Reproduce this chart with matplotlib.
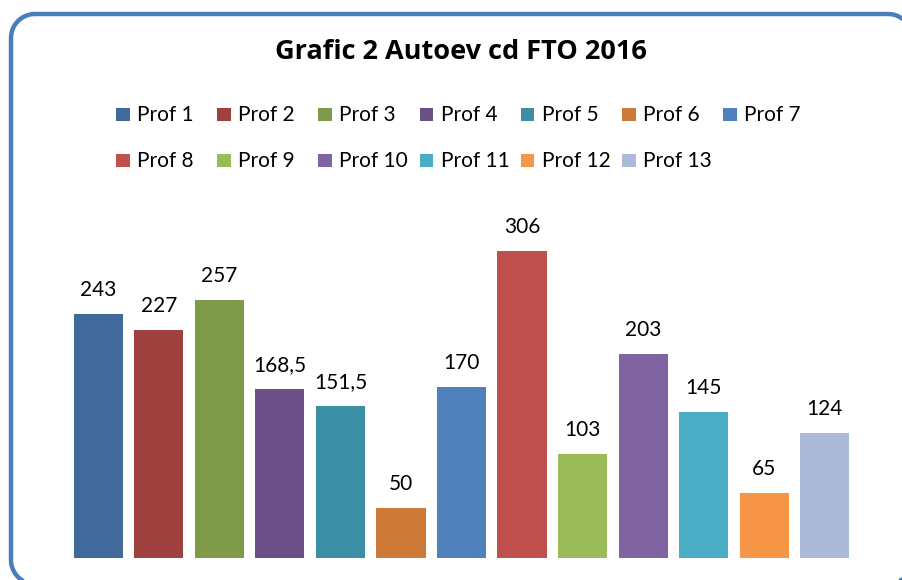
import matplotlib
matplotlib.use("Agg")
import numpy as np
import matplotlib.pyplot as plt
from matplotlib.patches import PathPatch, Rectangle
from matplotlib.path import Path
from matplotlib.transforms import IdentityTransform

# ---- data ----
series = ["Prof 1", "Prof 2", "Prof 3", "Prof 4", "Prof 5", "Prof 6", "Prof 7",
          "Prof 8", "Prof 9", "Prof 10", "Prof 11", "Prof 12", "Prof 13"]
values = [243, 227, 257, 168.5, 151.5, 50, 170, 306, 103, 203, 145, 65, 124]
colors = ["#416A9B", "#9E403E", "#7F9A48", "#6A5087", "#3A8FA5", "#CD7A38",
          "#4F81BD", "#C0504D", "#9BBB59", "#8064A2", "#4BACC6", "#F79646",
          "#AABAD8"]
title = "Grafic 2 Autoev cd FTO 2016"

W, H = 902, 580
FONT = "Lato"

fig = plt.figure(figsize=(W / 100, H / 100), dpi=100)
fig.patch.set_facecolor("white")


def rounded_rect(x0, y0, x1, y1, r, n=20):
    pts = []
    corners = [(x1 - r, y1 - r, 0, 90), (x0 + r, y1 - r, 90, 180),
               (x0 + r, y0 + r, 180, 270), (x1 - r, y0 + r, 270, 360)]
    for cx, cy, a0, a1 in corners:
        for t in np.linspace(np.radians(a0), np.radians(a1), n):
            pts.append((cx + r * np.cos(t), cy + r * np.sin(t)))
    pts.append(pts[0])
    return Path(pts)


# rounded chart border (display pixels, origin bottom-left)
fig.patches.append(PathPatch(rounded_rect(11, -4, 912, H - 14, 24),
                             transform=IdentityTransform(), fill=False,
                             edgecolor="#4A7EBB", linewidth=3.2))

# plot area
ax = fig.add_axes([60 / W, 22.3 / H, (863 - 60) / W, 330 / H])
ax.set_xlim(-0.636, 12.636)
ax.set_ylim(0, 329)
ax.axis("off")

xs = list(range(len(values)))
ax.bar(xs, values, width=0.81, color=colors, linewidth=0)

for x, v in zip(xs, values):
    lbl = (f"{v:g}").replace(".", ",")
    ax.annotate(lbl, (x, v), xytext=(0, 18), textcoords="offset pixels",
                ha="center", va="baseline", fontsize=15, family=FONT,
                color="black", annotation_clip=False)

# title
fig.text(461, H - 59, title, transform=IdentityTransform(), ha="center",
         va="baseline", fontsize=19.5, fontweight="bold", family="Open Sans")

# legend (Excel-like uniform grid)
for i, (name, c) in enumerate(zip(series, colors)):
    col, row = i % 7, i // 7
    x0 = 116 + 101.2 * col
    base = 120.7 + 46 * row
    fig.patches.append(Rectangle((x0, H - base), 13.5, 12.5,
                                 transform=IdentityTransform(),
                                 facecolor=c, edgecolor="none"))
    fig.text(x0 + 21, H - base, name, transform=IdentityTransform(),
             ha="left", va="baseline", fontsize=15, family=FONT)

fig.savefig("out.png", dpi=100)
